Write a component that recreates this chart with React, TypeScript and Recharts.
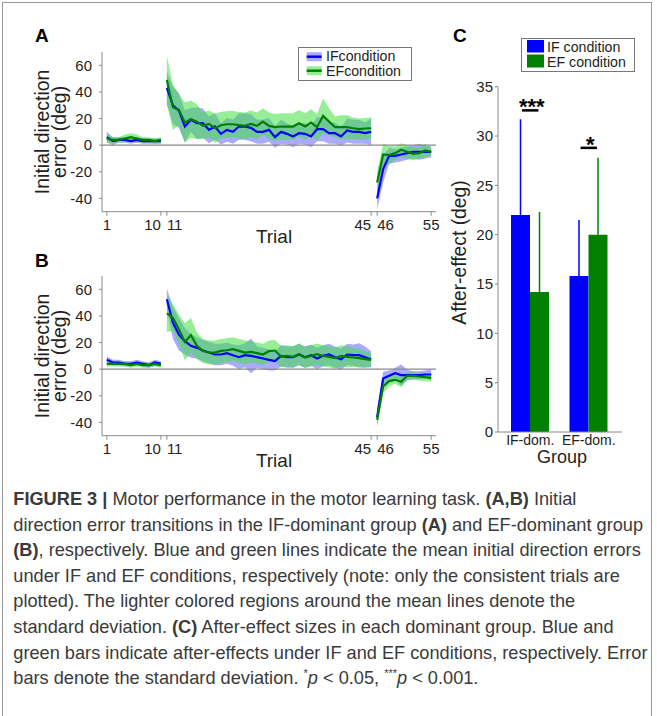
import React from "react";
import {
  ComposedChart,
  Area,
  Line,
  XAxis,
  YAxis,
  ReferenceLine,
  BarChart,
  Bar,
  ErrorBar,
  ReferenceDot,
} from "recharts";

// trial numbers 1..55 (x categories)
const trials = Array.from({ length: 55 }, (_, i) => i + 1);
const trialTicks = [1, 10, 11, 45, 46, 55];
const errTicks = [-40, -20, 0, 20, 40, 60];

// panel A: IF-dominant group (mean and SD per trial)
const aIfMean = [6, 3, 4, 4, 3, 4, 3, 3, 3, 3,
  43, 30, 26, 14, 19, 16.5, 16.5, 11.5, 14, 8.5, 11.5, 10, 14, 14, 13, 10, 10, 11.5, 6, 10, 8.5, 6.5, 9, 8.5, 6.5, 12, 12, 9, 9, 6.5, 11, 10, 10, 9, 10,
  -40, -18, -8, -8, -7, -6, -5, -5, -5, -5];
const aIfSd = [4, 3, 2, 2, 2, 2, 2, 2, 2, 2,
  12, 14, 13, 12, 9, 12, 11, 10, 10, 8, 9, 9, 10, 10, 10, 9, 9, 9, 8, 9, 8, 8, 8, 8, 8, 9, 9, 8, 8, 7, 9, 9, 9, 8, 10,
  8, 10, 6, 5, 5, 5, 5, 6, 5, 4];
const aEfMean = [5, 4, 4, 5, 6, 5, 4, 4, 3, 4,
  49, 28.5, 26.5, 17, 19.5, 17.7, 14.5, 16, 12.7, 15, 15.7, 15.7, 15, 14.5, 16, 14.5, 17.7, 14.5, 13.5, 14, 14, 14, 16.5, 14, 17, 13.5, 22, 17.7, 13.5, 13.5, 13.5, 12.7, 12, 12.5, 12.7,
  -28, -7, -7.5, -6, -3.5, -5, -6.5, -6, -4, -5];
const aEfSd = [3, 2, 2, 3, 3, 3, 2, 2, 2, 2,
  18, 17, 12, 15, 14, 13, 10, 10, 11, 10, 10, 10, 10, 10, 10, 10, 10, 10, 10, 10, 10, 10, 10, 10, 10, 10, 13, 10, 8, 9, 9, 8, 8, 8, 8,
  8, 8, 7, 5, 5, 5, 5, 4, 5, 3];

// panel B: EF-dominant group
const bIfMean = [7, 5, 5, 4, 4, 5, 4, 3, 5, 4,
  52.5, 35, 26, 21, 17.5, 16, 14, 12.5, 11, 11, 12, 10.5, 9, 10.5, 10, 9, 8, 7, 6, 10, 9, 9, 11, 9, 10.5, 8, 10, 11, 9, 7.5, 11, 10.5, 10.5, 9, 7.5,
  -36, -7, -5, -3, -4.5, -4.5, -4.5, -4.5, -4, -4];
const bIfSd = [2.5, 2, 2, 2, 2, 2, 2, 2, 2, 2,
  8, 12, 12, 10, 9, 8, 8, 8, 8, 8, 8, 8, 9, 9, 13, 8, 8, 8, 7, 8, 8, 8, 8, 8, 8, 8, 8, 8, 8, 8, 8, 8, 9, 8, 6,
  6, 5, 4, 4, 8, 4, 3, 3, 3, 4];
const bEfMean = [4, 4, 4, 4, 3, 4, 3, 3, 4, 3,
  42, 38.7, 30, 20.5, 25.5, 17.5, 13.7, 12.5, 12.5, 13.7, 14.2, 15, 13.7, 12.5, 13, 12, 11, 13.5, 14, 9.5, 10, 9.25, 11.25, 8.75, 10, 11.25, 10, 9.25, 8.25, 10, 9.25, 8.75, 8.25, 7.5, 7,
  -38, -13, -9, -8, -9.5, -5, -5, -5.5, -6, -6.5];
const bEfSd = [2, 2, 2, 2, 2, 2, 2, 2, 2, 2,
  14, 10, 11, 14, 13, 10, 9, 9, 9, 9, 9, 9, 9, 9, 8, 8, 8, 8, 8, 8, 8, 8, 8, 8, 8, 8, 8, 8, 8, 8, 8, 7, 7, 6, 5,
  6, 5, 4, 3, 4, 3, 3, 3, 3, 3];

// panel C: after-effect
const groups = ["IF-dom.", "EF-dom."];
const ifAfter = [22, 15.8];
const ifAfterSd = [9.7, 5.7];
const efAfter = [14.2, 20];
const efAfterSd = [8.1, 7.8];
const afterTicks = [0, 5, 10, 15, 20, 25, 30, 35];
const sigText = ["***", "*"];
const sigLevel = [32.6, 28.8];

const FONT = '"Liberation Sans", Arial, sans-serif';
const TEXT = "#231f20";
const AXIS = "#8a8a8a";
const IF_LINE = "#0000ff";
const EF_LINE = "#008000";
const IF_BAND = "#5555ff";
const EF_BAND = "#40e040";

// gap rows after trial 10 and 45 break the lines between blocks
function buildRows(ifMean: number[], ifSd: number[], efMean: number[], efSd: number[]) {
  const rows: any[] = [];
  trials.forEach((t, i) => {
    rows.push({
      trial: t,
      ifMean: ifMean[i],
      ifBand: [ifMean[i] - ifSd[i], ifMean[i] + ifSd[i]],
      efMean: efMean[i],
      efBand: [efMean[i] - efSd[i], efMean[i] + efSd[i]],
    });
    if (t === 10 || t === 45) rows.push({ trial: t + 0.5 });
  });
  return rows;
}

const rowsA = buildRows(aIfMean, aIfSd, aEfMean, aEfSd);
const rowsB = buildRows(bIfMean, bIfSd, bEfMean, bEfSd);
const rowsC = groups.map((g, i) => ({
  group: g,
  ifVal: ifAfter[i],
  ifErr: [0, ifAfterSd[i]],
  efVal: efAfter[i],
  efErr: [0, efAfterSd[i]],
}));

function TrialTick(props: any) {
  const { x, y, payload } = props;
  const v = payload.value;
  const anchor = v === 10 || v === 45 ? "end" : v === 11 || v === 46 ? "start" : "middle";
  return (
    <text x={x} y={y} dy="0.71em" textAnchor={anchor} fontSize={15} fill={TEXT} fontFamily={FONT}>
      {v}
    </text>
  );
}

function ErrLabel(props: any) {
  const cy = props.viewBox.y + props.viewBox.height / 2;
  return (
    <g fontFamily={FONT} fontSize={19.5} fill={TEXT} textAnchor="middle">
      <text x={49.5} y={cy} transform={`rotate(-90 49.5 ${cy})`}>Initial direction</text>
      <text x={66} y={cy} transform={`rotate(-90 66 ${cy})`}>error (deg)</text>
    </g>
  );
}

function TrialLabel(props: any) {
  const vb = props.viewBox;
  return (
    <text x={vb.x + vb.width / 2 + 5} y={vb.y + 31.6} textAnchor="middle" fontSize={19} fill={TEXT} fontFamily={FONT}>
      Trial
    </text>
  );
}

function TrialPanel({ rows, top }: { rows: any[]; top: number }) {
  return (
    <div style={{ position: "absolute", left: 0, top }}>
      <ComposedChart width={440} height={250} data={rows} margin={{ top: 52, right: 4, bottom: 8.3, left: 62 }}>
        <XAxis
          dataKey="trial"
          type="number"
          domain={[0.2, 55.8]}
          ticks={trialTicks}
          interval={0}
          height={30}
          stroke={AXIS}
          tickSize={4}
          tickMargin={3.6}
          tick={<TrialTick />}
          label={{ content: TrialLabel }}
        />
        <YAxis
          type="number"
          domain={[-50, 70]}
          ticks={errTicks}
          width={40}
          stroke={AXIS}
          tickSize={3}
          tickMargin={7}
          tick={{ fontSize: 15, fill: TEXT, fontFamily: FONT }}
          label={{ content: ErrLabel }}
        />
        <ReferenceLine y={0} stroke={AXIS} strokeWidth={1.2} />
        <Area dataKey="ifBand" type="linear" stroke="none" fill={IF_BAND} fillOpacity={0.5} isAnimationActive={false} />
        <Area dataKey="efBand" type="linear" stroke="none" fill={EF_BAND} fillOpacity={0.55} isAnimationActive={false} />
        <Line dataKey="ifMean" type="linear" stroke={IF_LINE} strokeWidth={2.2} dot={false} activeDot={false} isAnimationActive={false} />
        <Line dataKey="efMean" type="linear" stroke={EF_LINE} strokeWidth={2.2} dot={false} activeDot={false} isAnimationActive={false} />
      </ComposedChart>
    </div>
  );
}

function AfterLabel() {
  return (
    <text x={26} y={252.5} transform="rotate(-90 26 252.5)" textAnchor="middle" fontSize={19.3} fill={TEXT} fontFamily={FONT}>
      After-effect (deg)
    </text>
  );
}

function GroupLabel() {
  return (
    <text x={122} y={462.5} textAnchor="middle" fontSize={18} fill={TEXT} fontFamily={FONT}>
      Group
    </text>
  );
}

function SigMark(props: any, text: string) {
  const { cx, cy } = props;
  return (
    <g>
      <line x1={cx - 8.2} x2={cx + 8.2} y1={cy} y2={cy} stroke="#000" strokeWidth={2.5} />
      <text x={cx + 1.5} y={cy + 3.8} textAnchor="middle" fontSize={22} fontWeight="bold" fill="#000" fontFamily={FONT}>
        {text}
      </text>
    </g>
  );
}

function AfterEffectPanel() {
  return (
    <div style={{ position: "absolute", left: 440, top: 0 }}>
      <BarChart width={200} height={480} data={rowsC} margin={{ top: 86.7, right: 18, bottom: 18, left: 18 }} barGap={0} barSize={19}>
        <XAxis
          dataKey="group"
          stroke={AXIS}
          tickLine={false}
          tickSize={0}
          tickMargin={3}
          height={30}
          interval={0}
          padding={{ left: 3, right: 4 }}
          tick={{ fontSize: 14, fill: TEXT, fontFamily: FONT }}
          label={{ content: GroupLabel }}
        />
        <YAxis
          type="number"
          domain={[0, 35]}
          ticks={afterTicks}
          width={40}
          stroke={AXIS}
          tickSize={3}
          tickMargin={2}
          tick={{ fontSize: 15, fill: TEXT, fontFamily: FONT }}
          label={{ content: AfterLabel }}
        />
        <Bar dataKey="ifVal" fill={IF_LINE} isAnimationActive={false}>
          <ErrorBar dataKey="ifErr" direction="y" width={0} stroke={IF_LINE} strokeWidth={1.5} isAnimationActive={false} />
        </Bar>
        <Bar dataKey="efVal" fill={EF_LINE} isAnimationActive={false}>
          <ErrorBar dataKey="efErr" direction="y" width={0} stroke={EF_LINE} strokeWidth={1.5} isAnimationActive={false} />
        </Bar>
        {groups.map((g, i) => (
          <ReferenceDot key={g} x={g} y={sigLevel[i]} r={0} shape={(p: any) => SigMark(p, sigText[i])} />
        ))}
      </BarChart>
    </div>
  );
}

function Decorations() {
  return (
    <svg width={657} height={716} style={{ position: "absolute", left: 0, top: 0, pointerEvents: "none" }}>
      <g fontFamily={FONT} fontWeight="bold" fontSize={19} fill="#000">
        <text x={35} y={41.7}>A</text>
        <text x={35} y={266.7}>B</text>
        <text x={453} y={41.7}>C</text>
      </g>
      {/* legend A */}
      <g transform="translate(298 47)" fontFamily={FONT} fontSize={14.2} fill={TEXT}>
        <rect x={0.5} y={0.5} width={113} height={33} fill="#fff" stroke="#777" />
        <rect x={8.7} y={5.2} width={15} height={9} fill={IF_BAND} fillOpacity={0.5} />
        <line x1={8.7} x2={23.7} y1={9.7} y2={9.7} stroke={IF_LINE} strokeWidth={2.5} />
        <text x={28} y={13.9}>IFcondition</text>
        <rect x={8.7} y={19.2} width={15} height={9} fill={EF_BAND} fillOpacity={0.55} />
        <line x1={8.7} x2={23.7} y1={23.7} y2={23.7} stroke={EF_LINE} strokeWidth={2.5} />
        <text x={28} y={28.7}>EFcondition</text>
      </g>
      {/* legend C */}
      <g transform="translate(521 38)" fontFamily={FONT} fontSize={14.2} fill={TEXT}>
        <rect x={0.5} y={0.5} width={113} height={33} fill="#fff" stroke="#777" />
        <rect x={6} y={2} width={17} height={12.5} fill={IF_LINE} />
        <text x={26} y={13.9}>IF condition</text>
        <rect x={6} y={16.5} width={17} height={13} fill={EF_LINE} />
        <text x={26} y={28.7}>EF condition</text>
      </g>
    </svg>
  );
}

const captionStyle: React.CSSProperties = {
  height: 25.6,
  lineHeight: "25.6px",
  whiteSpace: "nowrap",
};

function Caption() {
  return (
    <div style={{ position: "absolute", left: 13.3, top: 487.1, fontFamily: FONT, fontSize: 18.2, color: "#3a3a3a" }}>
      <div style={captionStyle}><b>FIGURE 3 |</b> Motor performance in the motor learning task. <b>(A,B)</b> Initial</div>
      <div style={captionStyle}>direction error transitions in the IF-dominant group <b>(A)</b> and EF-dominant group</div>
      <div style={captionStyle}><b>(B)</b>, respectively. Blue and green lines indicate the mean initial direction errors</div>
      <div style={captionStyle}>under IF and EF conditions, respectively (note: only the consistent trials are</div>
      <div style={captionStyle}>plotted). The lighter colored regions around the mean lines denote the</div>
      <div style={captionStyle}>standard deviation. <b>(C)</b> After-effect sizes in each dominant group. Blue and</div>
      <div style={captionStyle}>green bars indicate after-effects under IF and EF conditions, respectively. Error</div>
      <div style={captionStyle}>
        bars denote the standard deviation. <sup style={{ fontSize: 11, lineHeight: 0 }}>*</sup><i>p</i> &lt; 0.05,{" "}
        <sup style={{ fontSize: 11, lineHeight: 0 }}>***</sup><i>p</i> &lt; 0.001.
      </div>
    </div>
  );
}

export default function App() {
  return (
    <div style={{ position: "absolute", left: 0, top: 0, width: 657, height: 716, background: "#fff", overflow: "hidden" }}>
      <div style={{ position: "absolute", left: 2, top: 2, width: 648, height: 730, border: "1px solid #9a9a9a" }} />
      <TrialPanel rows={rowsA} top={0} />
      <TrialPanel rows={rowsB} top={223.5} />
      <AfterEffectPanel />
      <Decorations />
      <Caption />
    </div>
  );
}
